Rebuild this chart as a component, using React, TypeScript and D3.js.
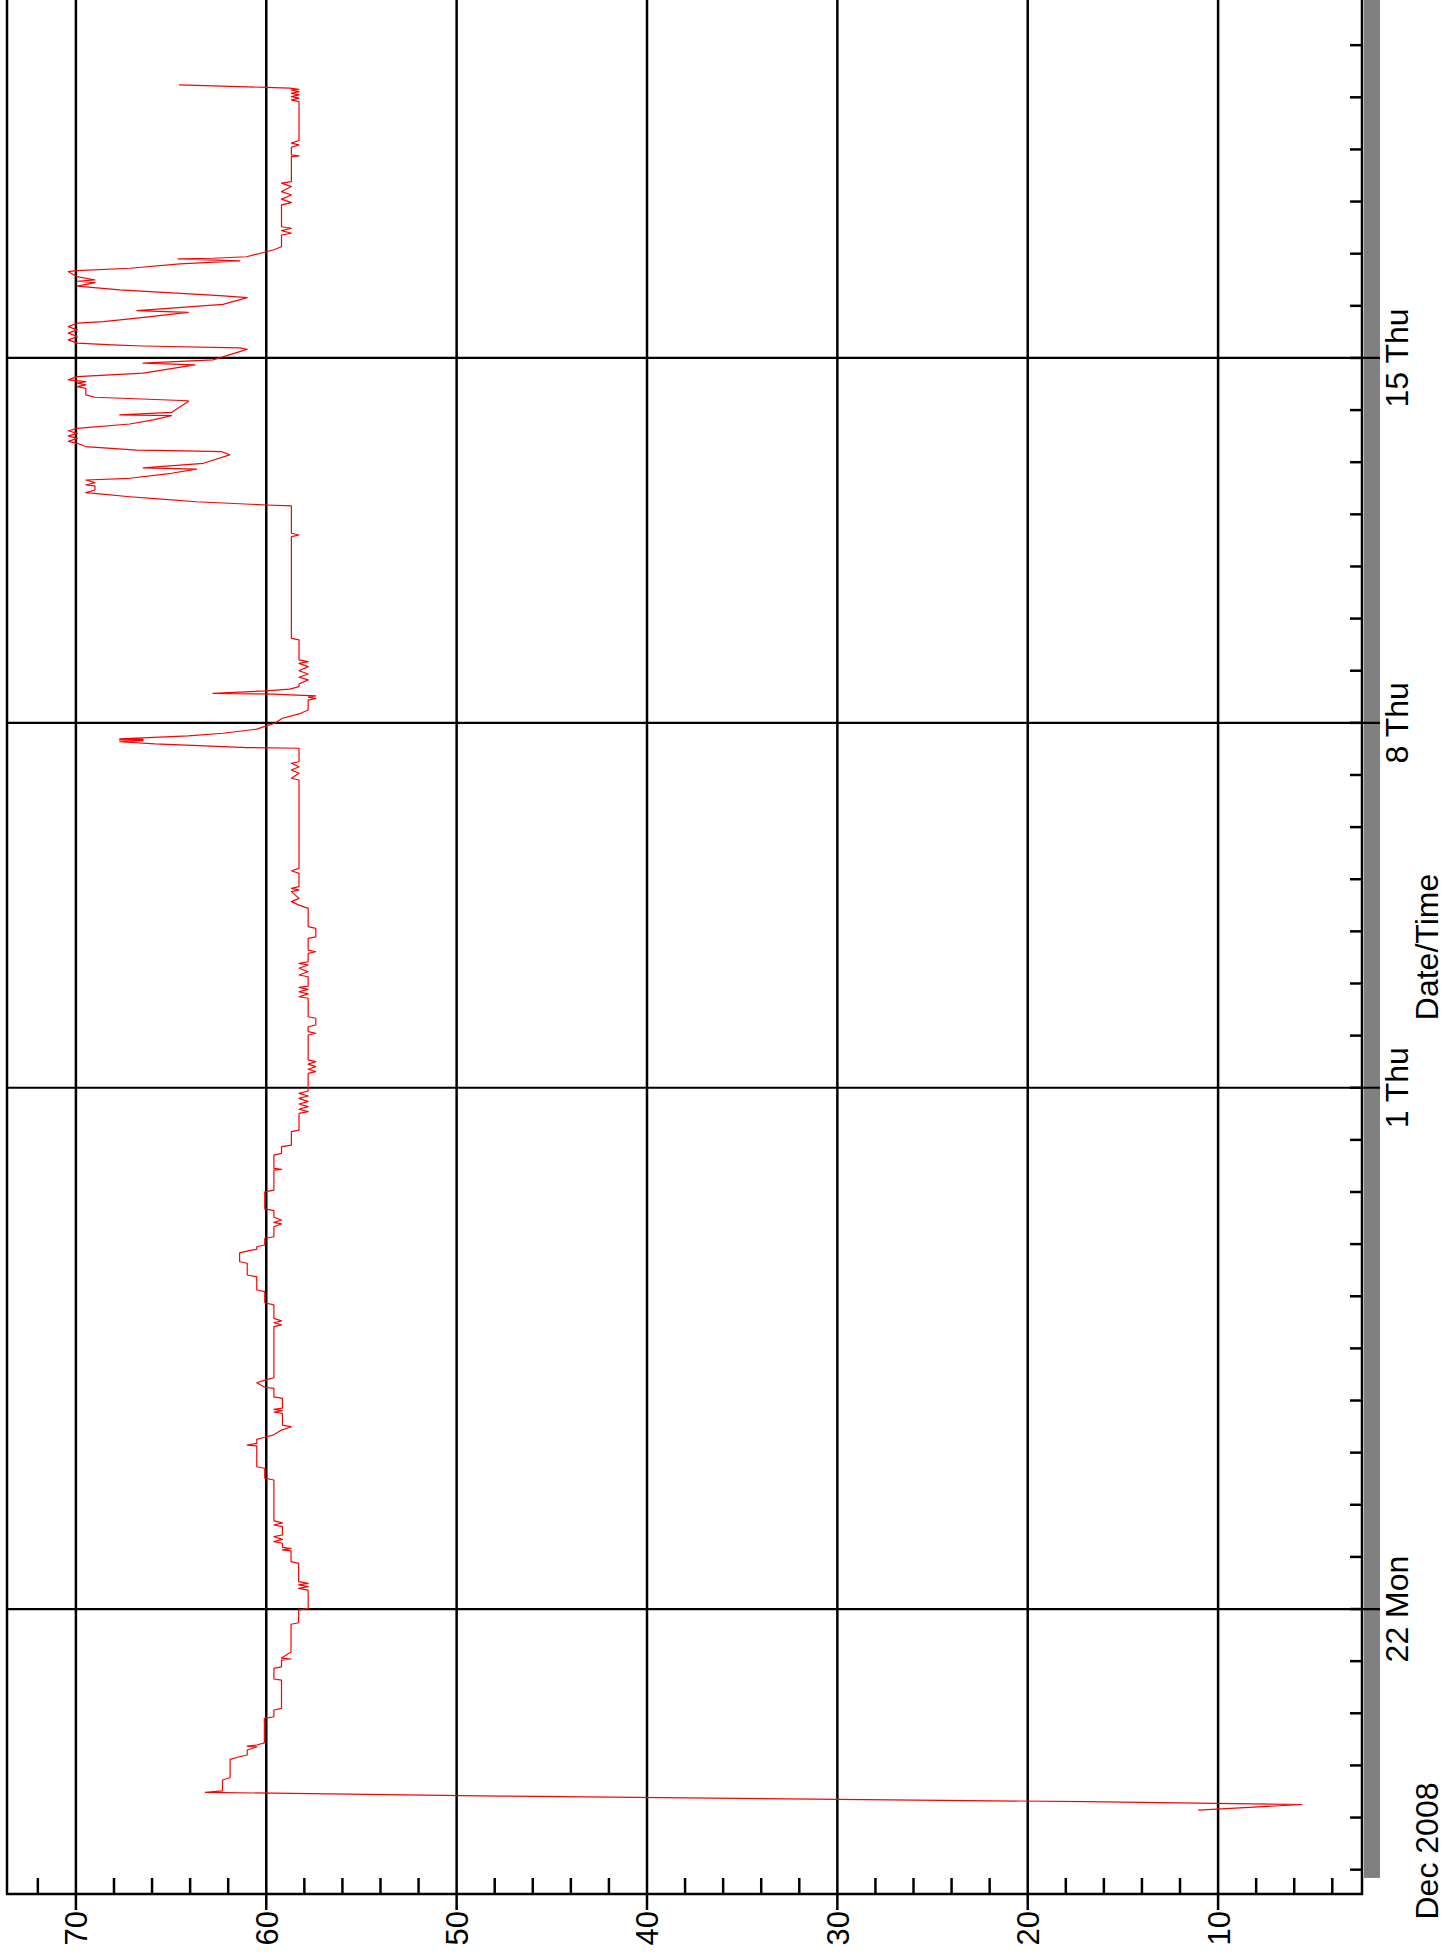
import React from "react";
import * as d3 from "d3";

// Logger trace: hours relative to 22 Dec 2008 00:00, and the recorded reading.
const hours = [
  -92.6, -90.0, -88.7, -86.1, -84.4, -83.7, -78.7, -77.7, -69.2, -68.0, -67.2, -64.9, -63.5, -63.1, -62.6,
  -61.6, -50.3, -49.6, -46.5, -45.7, -32.7, -32.2, -27.3, -26.6, -23.5, -23.0, -22.6, -19.8, -7.0, -6.3,
  -0.5, 0.3, 8.7, 9.5, 10.3, 11.1, 11.8, 12.6, 21.0, 21.8, 26.8, 27.2, 27.8, 28.4, 30.3, 31.0, 32.1, 33.3,
  34.1, 37.9, 38.7, 39.7, 40.6, 59.4, 60.2, 64.8, 65.5, 75.1, 75.5, 76.3, 78.1, 79.1, 80.1, 82.4, 83.9,
  84.7, 90.1, 90.7, 91.3, 91.9, 92.5, 97.0, 97.7, 101.6, 102.1, 104.2, 105.4, 106.5,
  130.0, 130.8, 131.8, 132.7, 133.8, 140.0, 141.0, 146.1, 146.9, 153.0, 153.8, 159.2, 159.9, 164.0, 165.0,
  165.6, 166.8, 167.6, 170.7, 171.4, 176.0, 177.3, 178.0, 179.1, 180.4, 183.4, 184.2, 192.1, 192.9, 202.1,
  202.4, 202.9, 209.0, 209.8, 212.9, 213.6, 219.8, 220.5, 228.2, 229.0, 230.1, 231.3, 232.5, 233.6, 235.1,
  236.2, 237.4, 238.5,
  246.6, 247.4, 248.5, 249.7, 250.9, 252.0, 252.8, 264.3, 265.1, 265.8, 268.1, 268.9, 272.0, 272.7, 281.2,
  281.9, 283.2, 284.2, 285.3, 286.2, 286.8, 291.1, 291.9, 293.4, 295.0, 296.5, 297.3, 298.0, 301.9, 302.6,
  303.4, 308.8, 309.5, 313.4, 314.2, 322.6, 324.1, 325.7, 327.2, 330.3, 331.1, 331.8, 332.6, 338.7, 339.9,
  341.0, 381.7, 382.5, 384.8, 386.3, 387.8, 389.4, 390.1, 396.3, 396.6, 397.4, 398.3, 399.3, 399.8, 400.1,
  400.4, 400.6, 401.4, 402.0, 403.2, 405.1, 406.6, 407.8, 410.1, 412.1, 413.9,
  418.5, 419.3, 419.8, 420.4, 421.3, 421.6, 422.7, 423.5, 424.7, 425.9, 427.8, 429.0, 430.5, 432.0, 433.9,
  435.4, 436.2, 437.0, 446.2, 446.9, 493.7, 494.5, 495.3, 507.9, 508.3, 509.8, 511.2, 512.1, 513.4, 514.0,
  515.2, 517.1, 517.5, 518.6, 519.8, 520.6, 522.9, 524.8, 525.4, 527.5, 531.4, 532.9, 533.3, 533.6, 535.2,
  536.7, 537.6, 539.0, 540.1, 541.3, 542.5, 543.6, 545.6, 547.5, 549.4, 549.8, 550.9, 553.4, 555.9,
  556.3, 557.9, 559.0, 562.0, 562.8, 563.6, 564.4, 565.1, 565.9, 567.4, 569.0, 572.8, 573.6, 575.1, 578.9,
  580.0, 580.6, 581.5, 582.0, 582.8, 584.3, 585.9, 587.4, 588.9, 590.4, 592.0, 592.7, 594.3, 597.0, 597.8,
  600.7, 603.8, 604.7, 607.3, 609.1, 610.7, 611.3, 611.9, 613.4, 615.7, 616.2, 617.3, 619.3, 620.7, 621.6,
  621.9, 622.6, 624.9, 625.7, 627.2, 632.6, 633.4, 634.6, 635.7, 636.4, 646.5, 647.5, 649.1, 651.0, 652.6,
  654.9, 656.5, 657.2, 668.7, 669.0, 669.5, 673.0, 674.1, 674.9, 676.1, 694.0, 694.8, 695.6, 696.3, 697.1,
  697.8, 698.6, 699.4, 699.7, 700.2, 700.6, 701.7,
];

const readings = [
  11.05, 5.6, 16.9, 47.7, 63.2, 62.3, 62.3, 61.9, 61.9, 61.4, 61.0, 61.0, 60.5, 61.0, 60.5,
  60.1, 60.1, 59.6, 59.6, 59.2, 59.2, 59.6, 59.6, 59.2, 59.2, 58.7, 59.2, 58.7, 58.7, 58.3,
  58.3, 57.8, 57.8, 58.3, 57.8, 58.3, 57.8, 58.3, 58.3, 58.7, 58.7, 59.15, 58.7, 59.15, 59.15, 59.6, 59.15, 59.6,
  59.15, 59.15, 59.6, 59.15, 59.6, 59.6, 60.08, 60.08, 60.5, 60.5, 61.0, 60.5, 60.5, 60.08, 59.64, 59.2, 58.68,
  59.15, 59.15, 59.6, 59.15, 59.6, 59.15, 59.15, 59.6, 59.6, 60.08, 60.5, 60.08, 59.6,
  59.6, 59.2, 59.6, 59.2, 59.6, 59.6, 60.08, 60.08, 60.5, 60.5, 61.0, 61.0, 61.4, 61.4, 60.9,
  60.5, 60.5, 60.08, 60.08, 59.6, 59.6, 59.2, 59.6, 59.2, 59.6, 59.6, 60.08, 60.08, 59.6, 59.6,
  59.2, 59.6, 59.6, 59.2, 59.2, 58.68, 58.68, 58.28, 58.28, 57.8, 58.28, 57.8, 58.28, 57.8, 58.28,
  57.8, 58.28, 57.8,
  57.8, 57.4, 57.8, 57.4, 57.8, 57.4, 57.8, 57.8, 57.4, 57.8, 57.8, 57.4, 57.4, 57.8, 57.8,
  58.28, 57.8, 58.28, 57.8, 58.28, 57.8, 57.8, 58.28, 57.8, 58.28, 57.8, 58.28, 57.8, 57.8, 57.4,
  57.8, 57.8, 57.4, 57.4, 57.8, 57.8, 58.28, 58.68, 58.28, 58.68, 58.28, 58.68, 58.28, 58.28, 58.68,
  58.28, 58.28, 58.68, 58.28, 58.68, 58.28, 58.68, 58.28, 58.28, 61.0, 63.23, 65.85, 67.7, 66.47, 67.7,
  66.47, 67.7, 65.6, 64.1, 62.27, 60.5, 60.0, 59.56, 59.15, 58.28, 57.8,
  57.8, 57.4, 57.8, 57.4, 60.0, 62.8, 60.0, 58.77, 58.28, 58.28, 57.8, 58.28, 57.8, 58.28, 57.8,
  58.28, 57.8, 58.28, 58.28, 58.68, 58.68, 58.28, 58.68, 58.68, 60.0, 63.67, 65.85, 67.17, 68.74, 69.48,
  69.0, 69.0, 69.48, 69.0, 69.48, 67.17, 64.98, 63.67, 66.47, 63.3, 61.92, 62.36, 64.98, 66.8, 69.5,
  69.93, 70.4, 69.93, 70.4, 69.93, 70.4, 69.93, 67.17, 65.94, 64.98, 67.7, 64.98, 64.54, 64.1,
  64.1, 69.0, 69.48, 69.48, 69.93, 69.48, 69.93, 69.48, 70.4, 69.93, 66.47, 63.75, 66.47, 62.8, 61.39,
  61.0, 61.39, 66.47, 68.1, 69.93, 70.4, 69.93, 70.4, 69.93, 70.4, 69.93, 68.56, 66.8, 64.1, 66.8,
  62.27, 61.0, 62.44, 67.7, 69.93, 69.0, 69.93, 69.0, 69.93, 70.4, 69.93, 67.17, 64.54, 61.39, 64.63,
  62.8, 61.04, 60.0, 59.64, 59.2, 59.2, 58.68, 59.2, 58.68, 59.2, 59.2, 58.68, 59.2, 58.68, 59.2,
  58.68, 59.2, 58.68, 58.68, 58.28, 58.68, 58.68, 58.28, 58.68, 58.28, 58.28, 58.68, 58.28, 58.68, 58.28,
  58.68, 58.28, 58.68, 58.28, 58.77, 60.0, 64.58,
];

// Value axis
const valueMajorTicks = [10, 20, 30, 40, 50, 60, 70];
const valueMinorTicks = [4, 6, 8, 12, 14, 16, 18, 22, 24, 26, 28, 32, 34, 36, 38, 42, 44, 46, 48, 52, 54, 56, 58, 62, 64, 66, 68, 72];
const valueDomain = [73.62, 2.44];

// Time axis (hours relative to 22 Dec 2008 00:00)
const timeDomainHours = [-131.2, 740.8];
const timeMajorHours = [0, 240, 408, 576];
const timeMajorLabels = ["22 Mon", "1 Thu", "8 Thu", "15 Thu"];
const bandStartHours = -123.8;
const timeAxisTitle = "Date/Time";
const timeStartLabel = "Dec 2008";

const origin = new Date(2008, 11, 22, 0, 0, 0);
const atHours = (h: number) => new Date(origin.getTime() + h * 3600 * 1000);

export default function App() {
  const W = 1445;
  const H = 1959;
  const plotLeft = 7;
  const plotRight = 1362;
  const plotTop = 0;
  const plotBottom = 1894;

  const x = d3.scaleLinear().domain(valueDomain).range([plotLeft, plotRight]);
  const y = d3
    .scaleTime()
    .domain([atHours(timeDomainHours[0]), atHours(timeDomainHours[1])])
    .range([plotBottom, plotTop]);

  const dayTicks = d3.timeDay.range(y.domain()[0], y.domain()[1]);

  const pts: [Date, number][] = hours.map((h, i) => [atHours(h), readings[i]]);
  const line = d3
    .line<[Date, number]>()
    .x((d) => x(d[1]))
    .y((d) => y(d[0]));

  const font = "'Liberation Sans', Arial, Helvetica, sans-serif";

  return (
    <svg
      width={W}
      height={H}
      viewBox={`0 0 ${W} ${H}`}
      style={{ position: "absolute", left: 0, top: 0, background: "#fff" }}
    >
      <rect x={0} y={0} width={W} height={H} fill="#fff" />

      {/* grey band alongside the time axis */}
      <rect
        x={plotRight + 2}
        y={y(atHours(timeDomainHours[1]))}
        width={16}
        height={y(atHours(bandStartHours)) - y(atHours(timeDomainHours[1]))}
        fill="#808080"
      />

      {/* vertical grid lines at major values, running past the axis as ticks */}
      {valueMajorTicks.map((v) => (
        <line key={"vg" + v} x1={x(v)} x2={x(v)} y1={plotTop} y2={plotBottom + 16} stroke="#000" strokeWidth={2.5} />
      ))}

      {/* horizontal grid lines at labelled days */}
      {timeMajorHours.map((h) => (
        <line
          key={"hg" + h}
          x1={plotLeft}
          x2={plotRight + 18}
          y1={y(atHours(h))}
          y2={y(atHours(h))}
          stroke="#000"
          strokeWidth={2.2}
        />
      ))}

      {/* minor value ticks */}
      {valueMinorTicks.map((v) => (
        <line key={"vm" + v} x1={x(v)} x2={x(v)} y1={plotBottom - 16} y2={plotBottom} stroke="#000" strokeWidth={2.5} />
      ))}

      {/* daily ticks on the time axis */}
      {dayTicks.map((d) => (
        <line
          key={"dt" + d.getTime()}
          x1={plotRight - 12}
          x2={plotRight}
          y1={y(d)}
          y2={y(d)}
          stroke="#000"
          strokeWidth={2.5}
        />
      ))}

      {/* frame: left edge, value axis and time axis */}
      <line x1={plotLeft} x2={plotLeft} y1={plotTop} y2={plotBottom} stroke="#000" strokeWidth={2.5} />
      <line x1={plotLeft - 1} x2={plotRight + 1} y1={plotBottom} y2={plotBottom} stroke="#000" strokeWidth={2.5} />
      <line x1={plotRight} x2={plotRight} y1={plotTop} y2={plotBottom + 1} stroke="#000" strokeWidth={2.5} />

      {/* trace */}
      <path d={line(pts) ?? ""} fill="none" stroke="#ff0000" strokeWidth={1.2} strokeLinejoin="round" />

      {/* value labels */}
      {valueMajorTicks.map((v) => (
        <text
          key={"vl" + v}
          transform={`translate(${x(v) + 11.5},${plotBottom + 17}) rotate(-90)`}
          textAnchor="end"
          fontFamily={font}
          fontSize={31}
          fill="#000"
        >
          {v}
        </text>
      ))}

      {/* time labels */}
      {timeMajorHours.map((h, i) => (
        <text
          key={"tl" + h}
          transform={`translate(1408,${y(atHours(h))}) rotate(-90)`}
          textAnchor="middle"
          fontFamily={font}
          fontSize={32}
          fill="#000"
        >
          {timeMajorLabels[i]}
        </text>
      ))}

      <text
        transform={`translate(1438,1851) rotate(-90)`}
        textAnchor="middle"
        fontFamily={font}
        fontSize={32}
        fill="#000"
      >
        {timeStartLabel}
      </text>
      <text
        transform={`translate(1438,947) rotate(-90)`}
        textAnchor="middle"
        fontFamily={font}
        fontSize={32}
        fill="#000"
      >
        {timeAxisTitle}
      </text>
    </svg>
  );
}
